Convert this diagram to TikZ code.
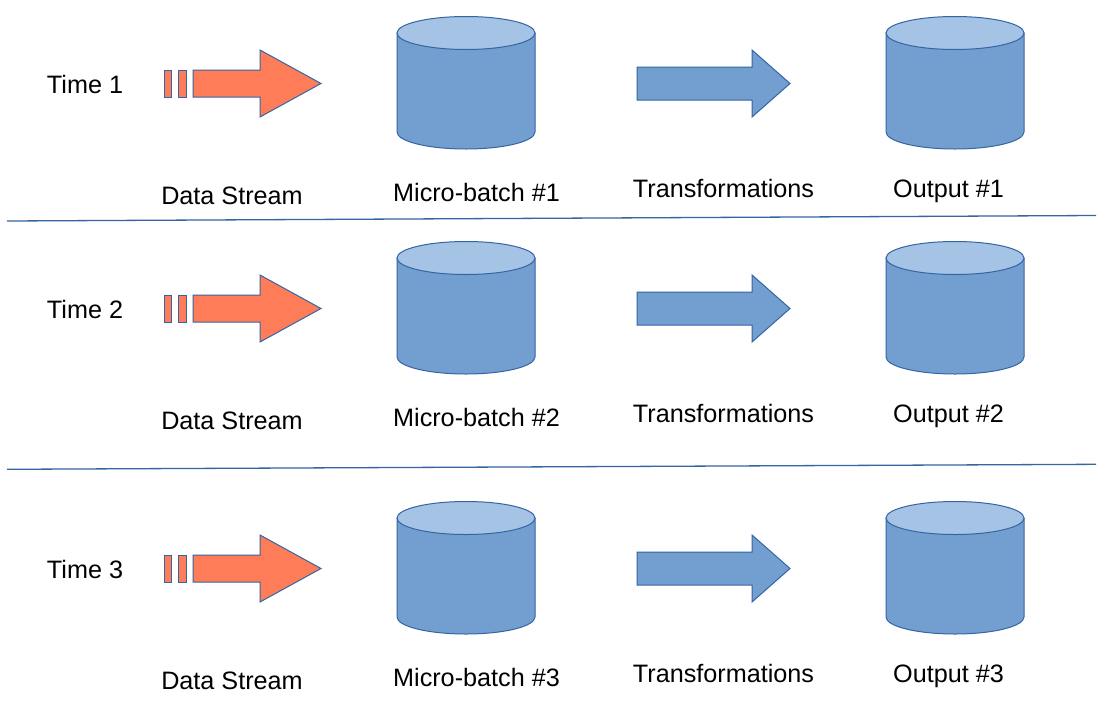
\documentclass[tikz,border=0pt]{standalone}
\usepackage{fontspec}
\setmainfont{Liberation Sans}
\definecolor{orng}{HTML}{FF7C59}
\definecolor{bfill}{HTML}{729FCF}
\definecolor{btop}{HTML}{A5C3E4}
\definecolor{bline}{HTML}{3465A4}
\begin{document}
\begin{tikzpicture}[x=1pt,y=-1pt,
  lbl/.style={font=\fontsize{25.2}{30}\selectfont, inner sep=0pt, anchor=base},
  shp/.style={draw=bline, line width=1pt, line join=miter},
  sep/.style={draw=bline, line width=1.3pt}]
\useasboundingbox (0,0) rectangle (1103,726);
\fill[white] (0,0) rectangle (1103,726);
\foreach \r/\dy in {1/0,2/225,3/485}{
  \begin{scope}[shift={(0,\dy)}]
    % labels
    \node[lbl] (time\r) at (85,93) {Time \r};
    \node[lbl] (ds\r) at (232,204.3) {Data Stream};
    \node[lbl] (mb\r) at (476.5,201.3) {Micro-batch \#\r};
    \node[lbl] (tr\r) at (723.5,197) {Transformations};
    \node[lbl] (out\r) at (948.5,197.3) {Output \#\r};
    % data stream arrow
    \path[shp, fill=orng] (164,70) rectangle (171,97);
    \path[shp, fill=orng] (178,70) rectangle (186,97);
    \path[shp, fill=orng] (193,70) -- (260,70) -- (260,50) -- (321,83.5)
      -- (260,117) -- (260,97) -- (193,97) -- cycle;
    % micro-batch cylinder
    \path[shp, fill=bfill] (397,33) -- (397,132)
      arc[start angle=180, end angle=0, x radius=69, y radius=17] -- (535,33) -- cycle;
    \path[shp, fill=btop] (466,33) ellipse[x radius=69, y radius=16.5];
    % transformation arrow
    \path[shp, fill=bfill] (637,67) -- (752,67) -- (752,50) -- (790,83.5)
      -- (752,117) -- (752,100) -- (637,100) -- cycle;
    % output cylinder
    \path[shp, fill=bfill] (886,33) -- (886,132)
      arc[start angle=180, end angle=0, x radius=69, y radius=17] -- (1024,33) -- cycle;
    \path[shp, fill=btop] (955,33) ellipse[x radius=69, y radius=16.5];
  \end{scope}
}
% separators
\draw[sep] (7,221) -- (1096,215.5);
\draw[sep] (7,469.3) -- (1096,464.3);
\end{tikzpicture}
\end{document}
